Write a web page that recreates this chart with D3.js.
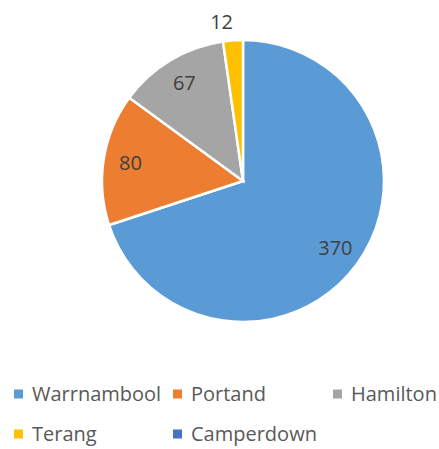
<!DOCTYPE html>
<html>
<head>
<meta charset="utf-8">
<script src="https://cdn.jsdelivr.net/npm/d3@7"></script>
<style>
  body { margin: 0; background: #fff; }
  text { font-family: "Open Sans", sans-serif; }
</style>
</head>
<body>
<div id="container"></div>
<script>
let w = 439;
let h = 449;

let towns = ["Warrnambool", "Portand", "Hamilton", "Terang", "Camperdown"];
let counts = [370, 80, 67, 12, 0];
let colours = ["#5b9bd5", "#ed7d31", "#a5a5a5", "#ffc000", "#4472c4"];

let viz = d3.select("#container")
    .append("svg")
      .attr("width", w)
      .attr("height", h)
      .style("background-color", "white");

let data = towns.map(function(t, i){
  return { town: t, value: counts[i] };
});

let cx = 243;
let cy = 181;
let r = 141;

let colour = d3.scaleOrdinal().domain(towns).range(colours);

let pie = d3.pie().sort(null).value(function(d){ return d.value; });
let arcs = pie(data);

let arc = d3.arc().innerRadius(0).outerRadius(r);
let labelArc = d3.arc().innerRadius(114).outerRadius(114);
let outsideArc = d3.arc().innerRadius(160).outerRadius(160);

let pieGroup = viz.append("g").attr("transform", "translate(" + cx + "," + cy + ")");

pieGroup.selectAll("path")
  .data(arcs.filter(function(d){ return d.value > 0; }))
  .enter()
  .append("path")
    .attr("d", arc)
    .attr("fill", function(d){ return colour(d.data.town); })
    .attr("stroke", "white")
    .attr("stroke-width", 2.5);

pieGroup.selectAll(".lbl")
  .data(arcs.filter(function(d){ return d.value > 0; }))
  .enter()
  .append("text")
    .attr("class", "lbl")
    .attr("transform", function(d){
      let small = (d.endAngle - d.startAngle) < 0.3;
      let p = small ? outsideArc.centroid(d) : labelArc.centroid(d);
      // the outside label sits a little left of the slice, like Excel's best fit
      if (small) p[0] -= 10;
      return "translate(" + p[0] + "," + p[1] + ")";
    })
    .attr("text-anchor", "middle")
    .attr("dy", "0.36em")
    .attr("font-size", 20)
    .attr("fill", "#404040")
    .text(function(d){ return d.value; });

// legend
let legendPos = [[14, 394], [173, 394], [333, 394], [14, 434], [173, 434]];

let legend = viz.selectAll(".legend")
  .data(towns)
  .enter()
  .append("g")
    .attr("class", "legend")
    .attr("transform", function(d, i){
      return "translate(" + legendPos[i][0] + "," + legendPos[i][1] + ")";
    });

legend.append("rect")
  .attr("x", 0)
  .attr("y", -4.5)
  .attr("width", 9)
  .attr("height", 9)
  .attr("fill", function(d){ return colour(d); });

legend.append("text")
  .attr("x", 18)
  .attr("dy", "0.36em")
  .attr("font-size", 20)
  .attr("fill", "#595959")
  .text(function(d){ return d; });
</script>
</body>
</html>
